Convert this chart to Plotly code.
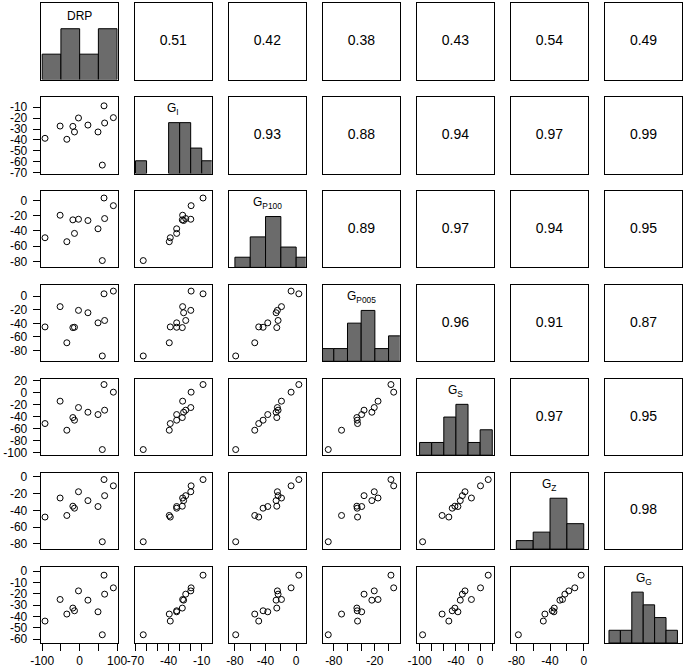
import numpy as np
import plotly.graph_objects as go

# ---------------- data ----------------
var_labels = ["DRP", "G<sub>I</sub>", "G<sub>P100</sub>", "G<sub>P005</sub>",
              "G<sub>S</sub>", "G<sub>Z</sub>", "G<sub>G</sub>"]

DRP    = [-92.5, -52.2, -34.2, -18.1, -13.8, -3.1, 22.1, 49.0, 60.5, 65.1, 66.7, 90.0]
G_I    = [-38.5, -27.3, -39.4, -27.6, -32.7, -19.9, -26.4, -32.7, -63.0, -8.8, -24.5, -19.6]
G_P100 = [-48.9, -19.2, -54.1, -25.3, -43.2, -24.5, -26.2, -37.1, -79.0, 3.5, -23.6, -6.6]
G_P005 = [-45.3, -15.4, -68.7, -46.3, -45.8, -20.9, -24.4, -39.3, -88.1, 3.5, -35.8, 7.5]
G_S    = [-51.7, -14.4, -62.8, -41.7, -46.1, -25.0, -32.8, -36.7, -95.0, 13.3, -29.4, 0.6]
G_Z    = [-48.0, -25.2, -46.1, -35.0, -37.4, -17.7, -28.3, -35.4, -77.6, -3.1, -22.4, -10.6]
G_G    = [-44.1, -25.0, -37.9, -32.6, -35.0, -17.4, -25.6, -35.9, -56.2, -3.5, -20.3, -14.7]

variables = [DRP, G_I, G_P100, G_P005, G_S, G_Z, G_G]

# correlation labels shown in the upper panels (row, col) -> text
corr_labels = {
    (0, 1): "0.51", (0, 2): "0.42", (0, 3): "0.38", (0, 4): "0.43", (0, 5): "0.54", (0, 6): "0.49",
    (1, 2): "0.93", (1, 3): "0.88", (1, 4): "0.94", (1, 5): "0.97", (1, 6): "0.99",
    (2, 3): "0.89", (2, 4): "0.97", (2, 5): "0.94", (2, 6): "0.95",
    (3, 4): "0.96", (3, 5): "0.91", (3, 6): "0.87",
    (4, 5): "0.97", (4, 6): "0.95",
    (5, 6): "0.98",
}

# histogram breaks (start, end, width) per variable
hist_breaks = [(-100, 100, 50), (-70, 0, 10), (-80, 20, 20), (-100, 20, 20),
               (-100, 20, 20), (-80, 0, 20), (-60, 0, 10)]

# tick values and tick labels
tick_vals = [
    [-100, -50, 0, 50, 100],
    [-70, -60, -50, -40, -30, -20, -10],
    [-80, -60, -40, -20, 0],
    [-80, -60, -40, -20, 0],
    [-100, -80, -60, -40, -20, 0, 20],
    [-80, -60, -40, -20, 0],
    [-60, -50, -40, -30, -20, -10, 0],
]
x_tick_text = [
    ["-100", "", "0", "", "100"],
    ["-70", "", "", "-40", "", "", "-10"],
    ["-80", "", "-40", "", "0"],
    ["-80", "", "", "-20", ""],
    ["-100", "", "", "-40", "", "0", ""],
    ["-80", "", "-40", "", "0"],
    None,
]
y_tick_text = [[str(v) for v in tv] for tv in tick_vals]

# axis ranges per variable (as in the reference)
axis_ranges = [[-104, 101.6], [-70.7, -0.9], [-88, 12.6], [-96, 16.5],
               [-104.4, 22.7], [-86.4, 5], [-63.5, 4]]

# ---------------- layout geometry ----------------
W, H = 685, 672
COL_L, COL_STEP, BOX_W = 40.7, 94.05, 77.0
ROW_T, ROW_STEP, BOX_H = 3.3, 93.9, 76.3
FONT = "Liberation Sans, Arial, Helvetica, sans-serif"
BAR_COLOR = "#6b6b6b"

n = len(variables)
fig = go.Figure()
layout_axes = {}
annotations = []

for i in range(n):
    for j in range(n):
        k = i * n + j + 1
        s = "" if k == 1 else str(k)
        x0 = (COL_L + j * COL_STEP) / W
        x1 = (COL_L + j * COL_STEP + BOX_W) / W
        top = ROW_T + i * ROW_STEP
        y1 = 1 - top / H
        y0 = 1 - (top + BOX_H) / H

        common = dict(showline=True, mirror=True, linecolor="black", linewidth=1,
                      showgrid=False, zeroline=False, ticks="", showticklabels=False,
                      fixedrange=True, automargin=False)
        xax = dict(domain=[x0, x1], anchor="y" + s, **common)
        yax = dict(domain=[y0, y1], anchor="x" + s, **common)

        if i == j:
            start, end, size = hist_breaks[i]
            counts, _ = np.histogram(variables[i], bins=np.arange(start, end + size, size))
            fig.add_trace(go.Histogram(
                x=variables[i], xbins=dict(start=start, end=end, size=size),
                autobinx=False,
                marker=dict(color=BAR_COLOR, line=dict(color="black", width=1)),
                xaxis="x" + s, yaxis="y" + s, showlegend=False, hoverinfo="skip"))
            xax["range"] = axis_ranges[j]
            yax["range"] = [0, 1.5 * counts.max()]
            annotations.append(dict(text=var_labels[i], x=0.5, y=0.84,
                                    xref="x" + s + " domain", yref="y" + s + " domain",
                                    showarrow=False, xanchor="center", yanchor="middle",
                                    font=dict(family=FONT, size=12, color="black")))
        elif i > j:
            fig.add_trace(go.Scatter(
                x=variables[j], y=variables[i], mode="markers",
                marker=dict(symbol="circle-open", size=6, color="black",
                            line=dict(width=1, color="black")),
                xaxis="x" + s, yaxis="y" + s, showlegend=False, hoverinfo="skip"))
            xax["range"] = axis_ranges[j]
            yax["range"] = axis_ranges[i]
        else:
            fig.add_trace(go.Scatter(
                x=[0.5], y=[0.5], mode="text", text=[corr_labels[(i, j)]],
                textposition="middle center",
                textfont=dict(family=FONT, size=14, color="black"),
                xaxis="x" + s, yaxis="y" + s, showlegend=False, hoverinfo="skip"))
            xax["range"] = [0, 1]
            yax["range"] = [0, 1]

        if i == n - 1 and x_tick_text[j] is not None:
            xax.update(ticks="outside", ticklen=7, tickwidth=1, tickcolor="black",
                       showticklabels=True, tickmode="array",
                       tickvals=tick_vals[j], ticktext=x_tick_text[j],
                       tickfont=dict(family=FONT, size=12, color="black"))
        if j == 0 and i > 0:
            yax.update(ticks="outside", ticklen=7, tickwidth=1, tickcolor="black",
                       showticklabels=True, tickmode="array",
                       tickvals=tick_vals[i], ticktext=y_tick_text[i],
                       ticklabelstandoff=3,
                       tickfont=dict(family=FONT, size=12, color="black"))

        layout_axes["xaxis" + s] = xax
        layout_axes["yaxis" + s] = yax

fig.update_layout(width=W, height=H,
                  margin=dict(l=0, r=0, t=0, b=0, pad=0, autoexpand=False),
                  paper_bgcolor="white", plot_bgcolor="white", bargap=0,
                  hovermode=False,
                  showlegend=False, annotations=annotations, **layout_axes)

fig.write_html("out.html",
               config={"displayModeBar": False, "staticPlot": True},
               post_script="document.body.style.margin='0px';document.body.style.overflow='hidden';")
